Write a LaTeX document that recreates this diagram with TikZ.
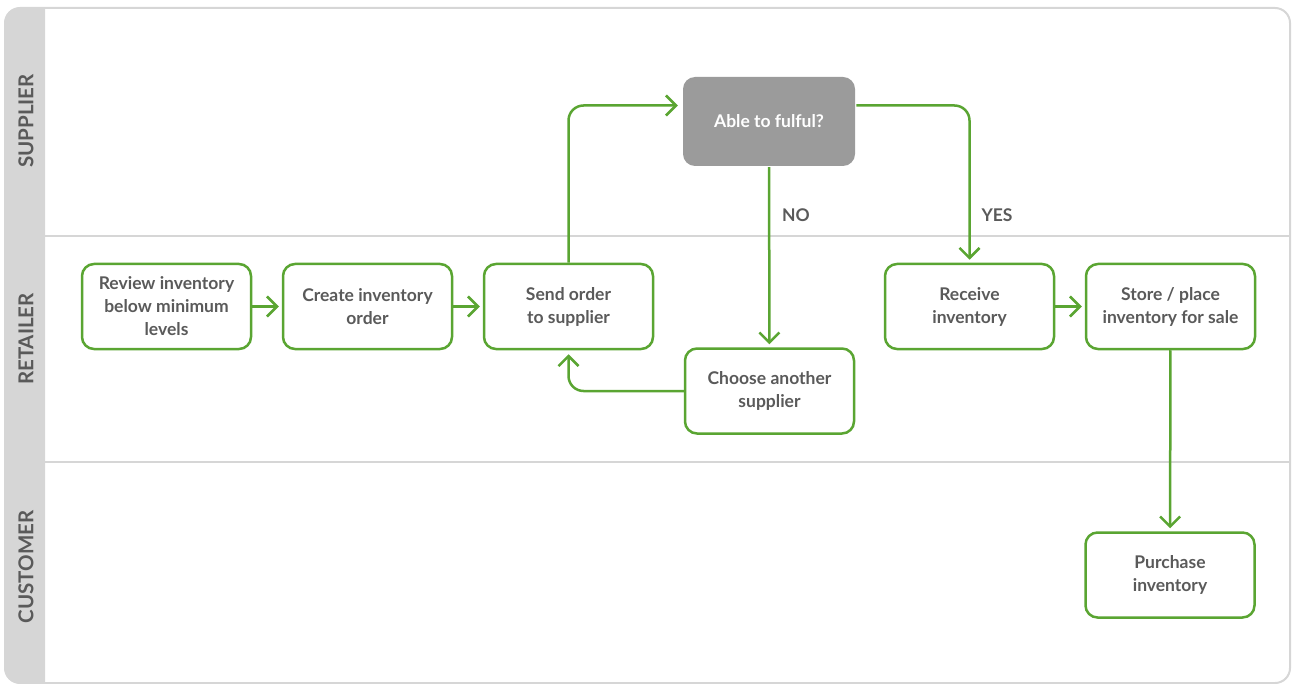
\documentclass[tikz,border=0pt]{standalone}
\usepackage{fontspec}
\setmainfont{Lato}
\usetikzlibrary{arrows.meta,positioning}

\definecolor{flowgreen}{HTML}{5AA532}
\definecolor{decgray}{HTML}{9B9B9B}
\definecolor{lanegray}{HTML}{D6D6D6}
\definecolor{textgray}{HTML}{5A5A5A}

\tikzset{
  task/.style={draw=flowgreen, line width=2.5pt, rounded corners=12pt, fill=white,
    minimum width=169pt, minimum height=85pt, align=center, text=textgray,
    font=\fontsize{17.5}{23}\selectfont\bfseries},
  decision/.style={task, draw=none, fill=decgray, text=white,
    minimum width=172pt, minimum height=89pt},
  lanelabel/.style={rotate=90, text=textgray, font=\fontsize{20.5}{22}\selectfont\bfseries},
  branch/.style={text=textgray, font=\fontsize{17.5}{20}\selectfont\bfseries},
  flow/.style={draw=flowgreen, line width=2.5pt, rounded corners=15pt,
    -{Straight Barb[length=10pt,width=20pt]}}
}

\begin{document}
\begin{tikzpicture}[x=1pt,y=-1pt]
\useasboundingbox (0,0) rectangle (1292,684);
% Draw the lane label column
\begin{scope}
  \clip (5,8) rectangle (45,683);
  \fill[lanegray, rounded corners=15pt] (5,8) rectangle (70,683);
\end{scope}
% Draw the frame and the lane separators
\draw[lanegray, line width=2pt, rounded corners=15pt] (5,8) rectangle (1290,683);
\draw[lanegray, line width=2pt] (45,236) -- (1290,236);
\draw[lanegray, line width=2pt] (45,462) -- (1290,462);
% Lane names
\node[lanelabel] (supplier) at (26,121) {SUPPLIER};
\node[lanelabel] (retailer) at (26,339) {RETAILER};
\node[lanelabel] (customer) at (26,567) {CUSTOMER};
% Draw the tasks
\node[task] (review) at (166.5,306.5) {Review inventory\\below minimum\\levels};
\node[task] (create) at (367.5,306.5) {Create inventory\\order};
\node[task] (send) at (568.5,306.5) {Send order\\to supplier};
\node[decision] (able) at (769,121.5) {Able to fulful?};
\node[task] (choose) at (769.5,391) {Choose another\\supplier};
\node[task] (receive) at (969.5,306.5) {Receive\\inventory};
\node[task] (store) at (1170.5,306.5) {Store / place\\inventory for sale};
\node[task] (purchase) at (1170,575) {Purchase\\inventory};
% Branch labels
\node[branch] (no) at (796,215) {NO};
\node[branch] (yes) at (997,215) {YES};
% Draw the flow
\draw[flow, shorten >=3pt] (review) -- (create);
\draw[flow, shorten >=3pt] (create) -- (send);
\draw[flow, shorten >=4pt] (send.north) |- ([yshift=16pt]able.west);
\draw[flow, shorten >=3pt] ([yshift=16pt]able.east) -| (receive.north);
\draw[flow, shorten >=3pt] (able) -- (choose);
\draw[flow, shorten >=4pt] (choose.west) -| (send.south);
\draw[flow, shorten >=3pt] (receive) -- (store);
\draw[flow, shorten >=3pt] (store) -- (purchase);
\end{tikzpicture}
\end{document}
